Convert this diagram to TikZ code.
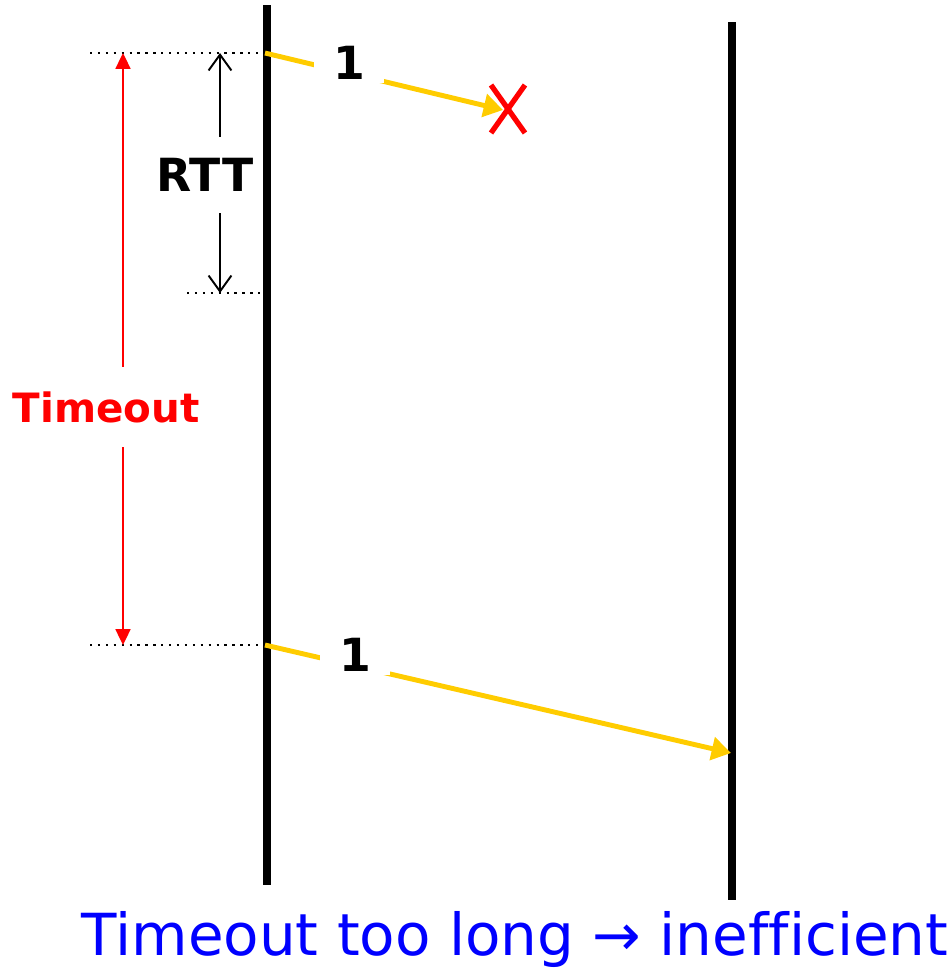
\documentclass[tikz,border=0pt]{standalone}
\usepackage{fontspec}
\setmainfont{DejaVu Sans}
\newfontfamily\notefont[Ligatures=NoCommon]{DejaVu Sans}
\usetikzlibrary{arrows.meta}
\definecolor{msgyellow}{HTML}{FFCC00}
\definecolor{lossred}{HTML}{FF0000}
\definecolor{noteblue}{HTML}{0000FF}

\begin{document}
\begin{tikzpicture}[x=0.02cm, y=-0.02cm, >=Stealth,
    lane/.style={black, line width=4pt},
    guide/.style={black, line width=1.3pt, dash pattern=on 1.3pt off 3.2pt},
    msg/.style={msgyellow, line width=2.8pt, -{Triangle[length=11pt, width=13pt]}},
    lbl/.style={font=\bfseries\fontsize{26}{30}\selectfont, fill=white}]

  \useasboundingbox (0,0) rectangle (949,968);

  % --- the two time lines (sender left, receiver right) ---
  \coordinate (sendtop) at (267,5);
  \coordinate (sendbot) at (267,885);
  \coordinate (recvtop) at (732,22);
  \coordinate (recvbot) at (732,900);
  \draw[lane] (sendtop) -- (sendbot);
  \draw[lane] (recvtop) -- (recvbot);

  % instants on the sender line
  \coordinate (t0)   at (265,53);
  \coordinate (trtt) at (265,293);
  \coordinate (tout) at (265,645);

  % --- dotted guides ---
  \coordinate (g0)   at (90,53);
  \coordinate (grtt) at (187,293);
  \coordinate (gout) at (90,645);
  \draw[guide] (g0) -- (t0);
  \draw[guide] (grtt) -- (trtt);
  \draw[guide] (gout) -- (tout);

  % --- RTT span (black, open tips) ---
  \coordinate (rtta) at (220,53);
  \coordinate (rttb) at (220,293);
  \draw[black, line width=1.1pt, {Straight Barb[length=9pt, width=13pt]}-{Straight Barb[length=9pt, width=13pt]}]
    (rtta) -- (rttb);
  \node[lbl, inner xsep=2pt, inner ysep=12pt] (rtt) at (205,175) {RTT};

  % --- Timeout span (red) ---
  \coordinate (toa) at (123,53);
  \coordinate (tob) at (123,645);
  \draw[lossred, line width=1.1pt, {Triangle[length=9pt, width=8.5pt]}-{Triangle[length=9pt, width=8.5pt]}]
    (toa) -- (tob);
  \node[lbl, font=\bfseries\fontsize{23}{27}\selectfont, text=lossred, inner xsep=0pt, inner ysep=14pt]
    (timeout) at (106,407) {Timeout};

  % --- first packet, lost ---
  \coordinate (lost) at (503,110);
  \draw[msg] (t0) -- (lost);
  \node[lbl, inner xsep=11pt, inner ysep=2pt] (one) at (349,63) {1};
  \draw[lossred, line width=3pt] (491,85) -- (525,133);
  \draw[lossred, line width=3pt] (525,85) -- (491,133);

  % --- retransmission after timeout ---
  \coordinate (arrive) at (731,753);
  \draw[msg] (tout) -- (arrive);
  \node[lbl, inner xsep=11pt, inner ysep=2pt] (two) at (355,655) {1};

  % --- caption ---
  \node[text=noteblue, font=\notefont\fontsize{33}{38}\selectfont, anchor=base, inner sep=0pt]
    (note) at (515,955) {Timeout too long → inefficient};

\end{tikzpicture}
\end{document}
